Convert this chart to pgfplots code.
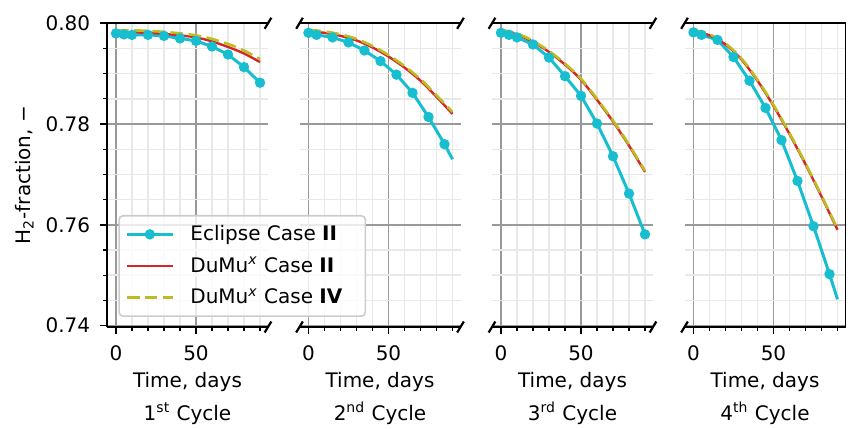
\documentclass[border=0pt]{standalone}
\usepackage{fontspec}
\setmainfont{DejaVu Sans}
\usepackage{pgfplots}
\pgfplotsset{compat=1.18}
\definecolor{ecl}{HTML}{17BECF}
\definecolor{dmr}{HTML}{D62728}
\definecolor{dmo}{HTML}{BCBD22}
\tikzset{
 spine/.style={black, line width=0.9pt},
 brk/.style={black, line width=1.1pt},
}
\pgfplotsset{
 panel/.style={
  scale only axis, width=80.5pt, height=151.85pt, anchor=south west,
  xmin=-5.6, xmax=95, ymin=0.7397, ymax=0.80,
  xtick={0,50}, xticklabels={0,50},
  minor xtick={10,20,30,40,60,70,80,90},
  ytick={0.74,0.76,0.78,0.80},
  minor ytick={0.745,0.75,0.755,0.765,0.77,0.775,0.785,0.79,0.795},
  grid=both,
  major grid style={black!40, line width=0.8pt},
  minor grid style={black!9, line width=0.7pt},
  axis line style={draw=none},
  tick align=outside, xtick pos=left, ytick pos=left,
  major tick length=3.5pt, minor tick length=2pt,
  major tick style={black, line width=0.8pt},
  minor tick style={black, line width=0.6pt},
  clip=false,
  /pgf/number format/assume math mode=true,
  ticklabel style={font=\normalsize},
  xticklabel style={inner sep=0pt}, xticklabel shift=5.5pt,
  yticklabel style={inner sep=0pt}, yticklabel shift=4.7pt,
  xlabel={Time, days},
  xlabel style={at={(axis description cs:0.5,0)}, anchor=base, yshift=-30pt, inner sep=0pt},
  legend image code/.code={\draw[mark repeat=2,mark phase=2,##1] plot coordinates {(0pt,0pt) (11.65pt,0pt) (23.3pt,0pt)};},
 },
 noy/.style={yticklabels={}, ytick style={draw=none}, minor y tick style={draw=none}},
 ecl/.style={color=ecl, line width=1.5pt, mark=*, mark size=1.8pt, mark options={solid}},
 dmr/.style={color=dmr, line width=1.2pt, no marks, smooth},
 dmo/.style={color=dmo, line width=1.3pt, no marks, smooth, dash pattern=on 6.3pt off 2.8pt},
}
\newcommand{\brk}[2]{\draw[brk] ([shift={(-1.67pt,-2.75pt)}]rel axis cs:#1,#2) -- ++(3.33pt,5.5pt);}
\newcommand{\cyc}[1]{\node[anchor=base, inner sep=0pt] at ([yshift=-46.5pt]rel axis cs:0.5,0) {#1 Cycle};}
\begin{document}
\begin{tikzpicture}
\path[use as bounding box] (0,0) rectangle (427pt,214pt);
% ---------- panel 2
\begin{axis}[panel, noy, at={(149.75pt,50.5pt)}]
\addplot[ecl, mark indices={1,2,3,4,5,6,7,8,9,10}] coordinates {
 (0,0.7981) (5,0.7977) (15,0.7972) (25,0.7962) (35,0.7946) (45,0.7925)
 (55,0.7898) (65,0.7862) (75,0.7814) (85,0.7760) (90,0.7730)};
\addplot[dmr] coordinates {
 (0,0.7984) (10,0.7981) (20,0.7975) (30,0.7966) (40,0.7952) (50,0.7934)
 (60,0.7912) (70,0.7886) (80,0.7854) (90,0.7820)};
\addplot[dmo] coordinates {
 (0,0.7987) (10,0.7984) (20,0.7978) (30,0.7969) (40,0.7955) (50,0.7937)
 (60,0.7915) (70,0.7889) (80,0.7857) (90,0.7824)};
\draw[spine] (rel axis cs:0,0) -- (rel axis cs:1,0);
\draw[spine] (rel axis cs:0,1) -- (rel axis cs:1,1);
\brk{0}{0}\brk{0}{1}\brk{1}{0}\brk{1}{1}
\cyc{2\textsuperscript{nd}}
\end{axis}
% ---------- panel 3
\begin{axis}[panel, noy, at={(246pt,50.5pt)}]
\addplot[ecl] coordinates {
 (0,0.7981) (5,0.7977) (10,0.7972) (20,0.7958) (30,0.7932) (40,0.7895)
 (50,0.7856) (60,0.7801) (70,0.7736) (80,0.7662) (90,0.7581)};
\addplot[dmr] coordinates {
 (0,0.7985) (10,0.7978) (20,0.7963) (30,0.7943) (40,0.7918) (50,0.7888)
 (60,0.7848) (70,0.7805) (80,0.7757) (90,0.7705)};
\addplot[dmo] coordinates {
 (0,0.7987) (10,0.7980) (20,0.7965) (30,0.7945) (40,0.7920) (50,0.7890)
 (60,0.7850) (70,0.7807) (80,0.7759) (90,0.7707)};
\draw[spine] (rel axis cs:0,0) -- (rel axis cs:1,0);
\draw[spine] (rel axis cs:0,1) -- (rel axis cs:1,1);
\brk{0}{0}\brk{0}{1}\brk{1}{0}\brk{1}{1}
\cyc{3\textsuperscript{rd}}
\end{axis}
% ---------- panel 4
\begin{axis}[panel, noy, at={(342.25pt,50.5pt)}]
\addplot[ecl, mark indices={1,2,3,4,5,6,7,8,9,10}] coordinates {
 (0,0.7982) (5,0.7977) (15,0.7967) (25,0.7933) (35,0.7886) (45,0.7832)
 (55,0.7768) (65,0.7687) (75,0.7597) (85,0.7502) (90,0.7452)};
\addplot[dmr] coordinates {
 (0,0.7985) (10,0.7976) (20,0.7958) (30,0.7928) (40,0.7886) (50,0.7836)
 (60,0.7780) (70,0.7720) (80,0.7656) (90,0.7590)};
\addplot[dmo] coordinates {
 (0,0.7987) (10,0.7978) (20,0.7960) (30,0.7930) (40,0.7888) (50,0.7838)
 (60,0.7782) (70,0.7722) (80,0.7658) (90,0.7592)};
\draw[spine] (rel axis cs:0,0) -- (rel axis cs:1,0);
\draw[spine] (rel axis cs:0,1) -- (rel axis cs:1,1);
\draw[spine] (rel axis cs:1,0) -- (rel axis cs:1,1);
\brk{0}{0}\brk{0}{1}
\cyc{4\textsuperscript{th}}
\end{axis}
% ---------- panel 1 (last, so its legend lies on top)
\begin{axis}[panel, at={(53.5pt,50.5pt)},
  yticklabels={0.74,0.76,0.78,0.80},
  ylabel={H\textsubscript{2}-fraction, −},
  ylabel style={at={(axis description cs:-0.478,0.5)}, anchor=base},
  legend cell align=left,
  legend style={at={(0.070,0.033)}, anchor=south west, draw=black!20, fill=white,
    fill opacity=0.8, text opacity=1, rounded corners=2pt, line width=0.8pt, font=\normalsize,
    column sep=5.85pt, row sep=2.85pt, inner ysep=2.75pt}]
\addplot[ecl] coordinates {
 (0,0.7980) (5,0.7978) (10,0.7977) (20,0.7977) (30,0.7975) (40,0.7970)
 (50,0.7965) (60,0.7954) (70,0.7938) (80,0.7913) (90,0.7882)};
\addlegendentry{Eclipse Case \textbf{II}}
\addplot[dmr] coordinates {
 (0,0.7982) (10,0.7982) (20,0.7981) (30,0.7979) (40,0.7976) (50,0.7972)
 (60,0.7964) (70,0.7953) (80,0.7940) (90,0.7923)};
\addlegendentry{DuMu\textsuperscript{\textit{x}} Case \textbf{II}}
\addplot[dmo] coordinates {
 (0,0.7986) (10,0.7986) (20,0.7985) (30,0.7983) (40,0.7980) (50,0.7976)
 (60,0.7969) (70,0.7959) (80,0.7946) (90,0.7929)};
\addlegendentry{DuMu\textsuperscript{\textit{x}} Case \textbf{IV}\hspace*{6.5pt}}
\draw[spine] (rel axis cs:0,0) -- (rel axis cs:1,0);
\draw[spine] (rel axis cs:0,1) -- (rel axis cs:1,1);
\draw[spine] (rel axis cs:0,0) -- (rel axis cs:0,1);
\brk{1}{0}\brk{1}{1}
\cyc{1\textsuperscript{st}}
\end{axis}
\end{tikzpicture}
\end{document}
